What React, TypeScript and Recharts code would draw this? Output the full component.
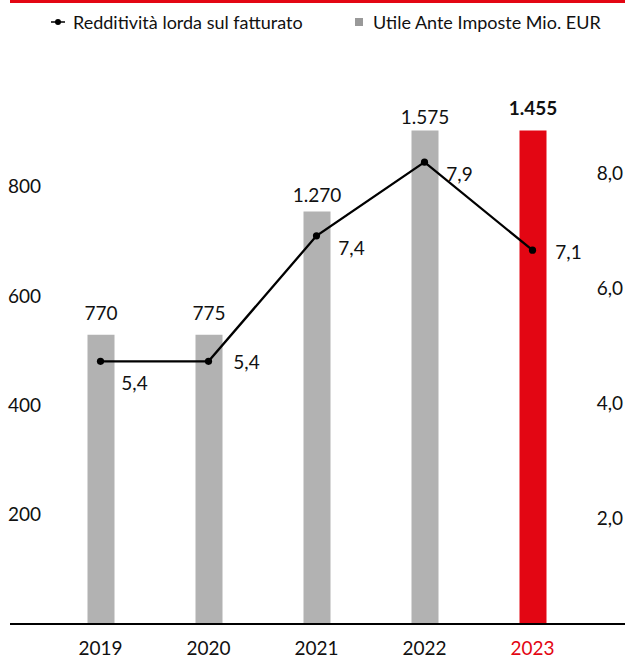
import { ComposedChart, Bar, Line, XAxis, YAxis, Cell, LabelList } from 'recharts';

const years = ['2019', '2020', '2021', '2022', '2023'];
// bar heights as they are drawn against the left scale
const utileHeights = [529, 529, 754, 902, 902];
const utileLabels = ['770', '775', '1.270', '1.575', '1.455'];
// line points as drawn against the right scale
const redditivita = [4.73, 4.73, 6.91, 8.19, 6.66];
const redditivitaLabels = ['5,4', '5,4', '7,4', '7,9', '7,1'];
const leftTicks = [200, 400, 600, 800];
const rightTicks = [2, 4, 6, 8];

const data = years.map((year, i) => ({
  year,
  utile: utileHeights[i],
  utileLabel: utileLabels[i],
  rate: redditivita[i],
  rateLabel: redditivitaLabels[i],
}));

const RED = '#e30613';
const GREY = '#b2b2b2';
const TEXT = '#111';
const FONT = 'Lato, sans-serif';

// small per-label nudges to follow the original layout
const BAR_GAP = [15, 15, 10, 7, 16];
const RATE_NUDGE = [
  [34, 21],
  [38, 0],
  [35, 12],
  [35, 11],
  [36, 1],
];

const BarValue = (props: any) => {
  const { x, y, width, index, value } = props;
  const last = index === years.length - 1;
  return (
    <text
      x={x + width / 2}
      y={y - BAR_GAP[index]}
      textAnchor="middle"
      fontFamily={FONT}
      fontSize={19}
      fontWeight={last ? 700 : 400}
      fill={TEXT}
    >
      {value}
    </text>
  );
};

const RateValue = (props: any) => {
  const { x, y, index, value } = props;
  const [dx, dy] = RATE_NUDGE[index];
  return (
    <text
      x={x + dx}
      y={y + dy}
      textAnchor="middle"
      dominantBaseline="central"
      fontFamily={FONT}
      fontSize={19}
      fill={TEXT}
    >
      {value}
    </text>
  );
};

const YearTick = (props: any) => {
  const { x, y, payload } = props;
  const last = payload.value === years[years.length - 1];
  return (
    <text
      x={x}
      y={y}
      dy="0.71em"
      textAnchor="middle"
      fontFamily={FONT}
      fontSize={19}
      fill={last ? RED : TEXT}
    >
      {payload.value}
    </text>
  );
};

export default function App() {
  return (
    <div style={{ position: 'absolute', left: 0, top: 0, width: 625, height: 657, background: '#fff', overflow: 'hidden' }}>
      <ComposedChart
        width={625}
        height={657}
        data={data}
        margin={{ top: 77, right: 0, bottom: 0, left: 10 }}
      >
        <XAxis
          dataKey="year"
          height={33}
          padding={{ left: 36.5, right: 38.5 }}
          axisLine={{ stroke: '#000', strokeWidth: 2 }}
          tickLine={false}
          tickSize={0}
          tickMargin={18}
          tick={<YearTick />}
          interval={0}
        />
        <YAxis
          yAxisId="left"
          orientation="left"
          mirror
          domain={[0, 1000]}
          ticks={leftTicks}
          axisLine={false}
          tickLine={false}
          tickSize={0}
          tickMargin={-2}
          allowDataOverflow
          tick={{ fontFamily: FONT, fontSize: 19, fill: TEXT }}
        />
        <YAxis
          yAxisId="right"
          orientation="right"
          mirror
          domain={[0.165, 9.67]}
          ticks={rightTicks}
          axisLine={false}
          tickLine={false}
          tickSize={0}
          tickMargin={2}
          allowDataOverflow
          tickFormatter={(v: number) => v.toFixed(1).replace('.', ',')}
          tick={{ fontFamily: FONT, fontSize: 19, fill: TEXT }}
        />
        <Bar yAxisId="left" dataKey="utile" barSize={27} isAnimationActive={false}>
          {data.map((d, i) => (
            <Cell key={d.year} fill={i === data.length - 1 ? RED : GREY} />
          ))}
          <LabelList dataKey="utileLabel" content={<BarValue />} />
        </Bar>
        <Line
          yAxisId="right"
          dataKey="rate"
          stroke="#000"
          strokeWidth={2.3}
          dot={{ r: 3.6, fill: '#000', stroke: 'none' }}
          activeDot={false}
          isAnimationActive={false}
        >
          <LabelList dataKey="rateLabel" content={<RateValue />} />
        </Line>
      </ComposedChart>
      <div style={{ position: 'absolute', left: 10, top: 0, width: 615, height: 2.5, background: RED, zIndex: 2 }} />
      <div
        style={{
          position: 'absolute',
          top: 10,
          left: 0,
          width: 625,
          height: 24,
          fontFamily: FONT,
          fontSize: 18,
          color: TEXT,
          lineHeight: '24px',
          zIndex: 2,
        }}
      >
        <svg style={{ position: 'absolute', left: 51, top: 8 }} width={14} height={8}>
          <line x1={0} y1={4} x2={14} y2={4} stroke="#000" strokeWidth={1.5} />
          <circle cx={7} cy={4} r={3} fill="#000" />
        </svg>
        <span style={{ position: 'absolute', left: 73, top: 0, whiteSpace: 'nowrap' }}>Redditività lorda sul fatturato</span>
        <span style={{ position: 'absolute', left: 355, top: 8, width: 8, height: 8, background: '#999' }} />
        <span style={{ position: 'absolute', left: 373, top: 0, whiteSpace: 'nowrap' }}>Utile Ante Imposte Mio. EUR</span>
      </div>
    </div>
  );
}
